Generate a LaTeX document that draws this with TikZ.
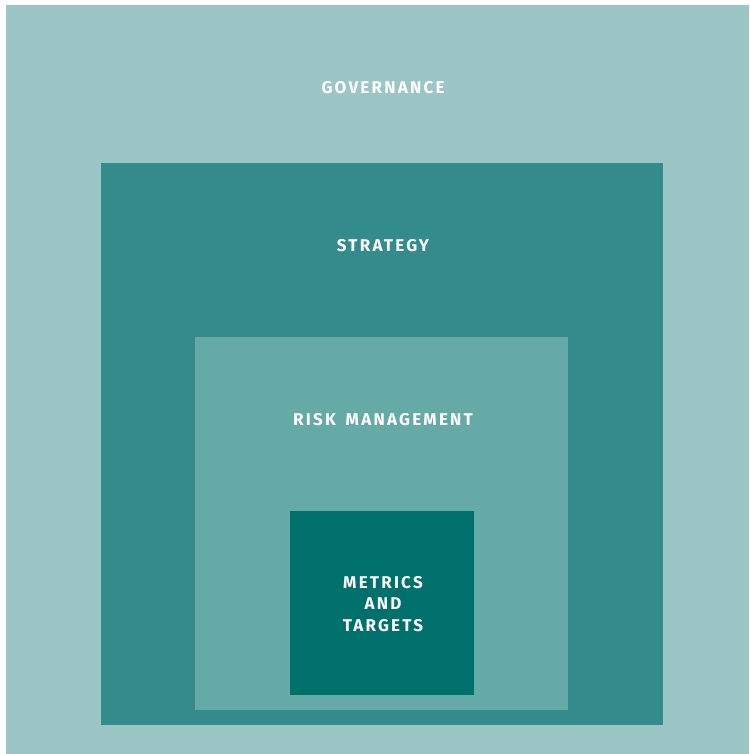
\documentclass[tikz,border=0pt]{standalone}
\usepackage{fontspec}
\setmainfont{Fira Sans}[LetterSpace=13,WordSpace=1.6]
\usepackage{xcolor}
\definecolor{govcol}{HTML}{9CC6C6}
\definecolor{stratcol}{HTML}{338C8B}
\definecolor{riskcol}{HTML}{66AAA8}
\definecolor{metcol}{HTML}{00706D}

\begin{document}
\begin{tikzpicture}[x=1pt,y=-1pt,
            lbl/.style={text=white, font=\bfseries\fontsize{17}{21.5}\selectfont, align=center, inner sep=0pt}]
        \useasboundingbox (0,0) rectangle (749,754);

        \fill[govcol] (6,5) rectangle (749,754);
        \fill[stratcol] (101,163) rectangle (663,725);
        \fill[riskcol] (195,337) rectangle (568,710);
        \fill[metcol] (290,511) rectangle (474,695);

        \node[lbl] (gov) at (383,88) {GOVERNANCE};
        \node[lbl] (strat) at (383,246) {STRATEGY};
        \node[lbl] (risk) at (383,420) {RISK MANAGEMENT};
        \node[lbl] (met) at (383,604) {METRICS\\AND\\TARGETS};
    \end{tikzpicture}
\end{document}
